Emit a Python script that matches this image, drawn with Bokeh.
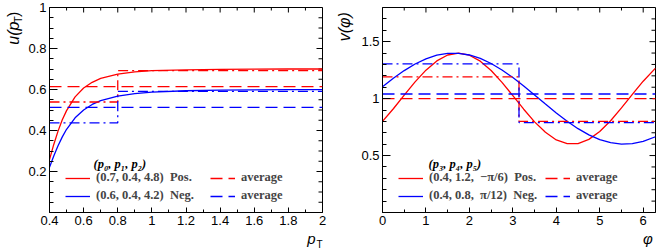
import numpy as np
from bokeh.plotting import figure
from bokeh.layouts import row, column
from bokeh.models import (FixedTicker, Range1d, Label, Legend, LegendItem,
                          PrintfTickFormatter)
from bokeh.core.properties import value
from bokeh.embed import file_html
from bokeh.resources import INLINE

# ---------------- data: left panel u(pT) ----------------
pt = [0.4, 0.425, 0.45, 0.475, 0.5, 0.55, 0.6, 0.65, 0.7, 0.8, 0.9, 1.0,
      1.2, 1.4, 1.6, 1.8, 2.0]
u_pos = [0.258, 0.332, 0.397, 0.452, 0.497, 0.564, 0.607, 0.635, 0.654,
         0.675, 0.686, 0.692, 0.696, 0.698, 0.699, 0.700, 0.700]
u_neg = [0.221, 0.276, 0.326, 0.369, 0.406, 0.462, 0.500, 0.527, 0.546,
         0.568, 0.580, 0.587, 0.594, 0.597, 0.598, 0.599, 0.599]
u_avg_pos = 0.614
u_avg_neg = 0.513
pt_edges = [0.4, 0.8, 2.0]
u_bin_pos = [0.539, 0.692]
u_bin_neg = [0.437, 0.591]

# ---------------- data: right panel v(phi) ----------------
phi = [0.0, 0.25, 0.5, 0.75, 1.0, 1.25, 1.5, 1.75, 2.0, 2.25, 2.5, 2.75,
       3.0, 3.25, 3.5, 3.75, 4.0, 4.25, 4.5, 4.75, 5.0, 5.25, 5.5, 5.75,
       6.0, 6.2832]
v_pos = [0.800, 0.911, 1.031, 1.147, 1.250, 1.331, 1.383, 1.400, 1.381,
         1.329, 1.247, 1.143, 1.026, 0.907, 0.796, 0.704, 0.637, 0.604,
         0.605, 0.642, 0.711, 0.806, 0.918, 1.037, 1.153, 1.268]
v_neg = [1.104, 1.178, 1.246, 1.304, 1.349, 1.381, 1.398, 1.398, 1.383,
         1.353, 1.308, 1.251, 1.185, 1.111, 1.032, 0.952, 0.874, 0.801,
         0.736, 0.682, 0.640, 0.613, 0.601, 0.605, 0.624, 0.665]
v_avg_pos = 1.0
v_avg_neg = 1.041
phi_edges = [0.0, 3.1416, 6.2832]
v_bin_pos = [1.19, 0.80]
v_bin_neg = [1.305, 0.79]

# ---------------- ticks ----------------
pt_major = [0.4, 0.6, 0.8, 1.0, 1.2, 1.4, 1.6, 1.8, 2.0]
pt_minor = [0.5, 0.7, 0.9, 1.1, 1.3, 1.5, 1.7, 1.9]
u_major = [0.2, 0.4, 0.6, 0.8, 1.0]
u_minor = [0.05, 0.1, 0.15, 0.25, 0.3, 0.35, 0.45, 0.5, 0.55, 0.65, 0.7,
           0.75, 0.85, 0.9, 0.95]
phi_major = [0, 1, 2, 3, 4, 5, 6]
phi_minor = [0.5, 1.5, 2.5, 3.5, 4.5, 5.5]
v_major = [0.5, 1.0, 1.5]
v_minor = [0.1, 0.2, 0.3, 0.4, 0.6, 0.7, 0.8, 0.9, 1.1, 1.2, 1.3, 1.4,
           1.6, 1.7]

RED = "#ff0000"
BLUE = "#0000ff"
DASH = "12 6"
DASHDOT = "10 4 2 4"
SANS = "Liberation Sans"
SERIF = "Liberation Serif"
H = 229          # main row height
BT, BB = 7, 17   # frame top/bottom borders
FW = 273         # frame width
TW = 24          # width of the y-title strips
XH = 21          # height of the x-title strip


def style_axis(ax, major, minor, tin, tmin):
    ax.ticker = FixedTicker(ticks=major, minor_ticks=minor)
    ax.formatter = PrintfTickFormatter(format="%g")
    ax.major_tick_in = tin
    ax.major_tick_out = 0
    ax.minor_tick_in = tmin
    ax.minor_tick_out = 0
    ax.axis_line_color = "black"
    ax.major_tick_line_color = "black"
    ax.minor_tick_line_color = "black"
    ax.major_label_text_font = SANS
    ax.major_label_text_font_size = "13px"
    ax.major_label_text_color = "black"
    ax.major_label_standoff = 3


def make_panel(bl, br, xr, yr, xmaj, xmin, ymaj, ymin):
    p = figure(width=bl + FW + br, height=H, x_range=Range1d(*xr),
               y_range=Range1d(*yr), output_backend="svg",
               toolbar_location=None, min_border_left=bl,
               min_border_right=br, min_border_top=BT, min_border_bottom=BB)
    p.xgrid.visible = False
    p.ygrid.visible = False
    p.outline_line_color = "black"
    p.outline_line_width = 1
    style_axis(p.xaxis[0], xmaj, xmin, 5, 3)
    style_axis(p.yaxis[0], ymaj, ymin, 8, 4)
    # tick marks on the top and right frame edges
    x1, y1 = xr[1], yr[1]
    p.ray(x=xmaj, y=[y1] * len(xmaj), length=5, length_units="screen",
          angle=-np.pi / 2, line_color="black", line_width=1)
    p.ray(x=xmin, y=[y1] * len(xmin), length=3, length_units="screen",
          angle=-np.pi / 2, line_color="black", line_width=1)
    p.ray(x=[x1] * len(ymaj), y=ymaj, length=6, length_units="screen",
          angle=np.pi, line_color="black", line_width=1)
    p.ray(x=[x1] * len(ymin), y=ymin, length=4, length_units="screen",
          angle=np.pi, line_color="black", line_width=1)
    return p


def blank(w, h):
    # a bare strip whose data coordinates equal its pixels (y up)
    f = figure(width=w, height=h, x_range=Range1d(0, w), y_range=Range1d(0, h),
               output_backend="svg", toolbar_location=None,
               x_axis_location=None, y_axis_location=None,
               min_border_left=0, min_border_right=0, min_border_top=0,
               min_border_bottom=0)
    f.outline_line_color = None
    f.grid.visible = False
    return f


def lbl(p, x, y, text, size="16px", style="italic", align="center",
        baseline="middle", font=SANS):
    p.add_layout(Label(x=x, y=y, x_units="screen", y_units="screen", text=text,
                       text_font=font, text_font_size=size,
                       text_font_style=style, text_align=align,
                       text_baseline=baseline, text_color="black"))


def vtext(p, x, y, text, size="16px", style="italic"):
    # vertical (bottom-to-top) title piece, centred on (x, y)
    p.text(x=[x], y=[y], text=[text], angle=np.pi / 2, text_align="center",
           text_baseline="middle", text_font=value(SANS),
           text_font_size=value(size), text_font_style=style,
           text_color="black")


def add_legends(p, items1, items2, x2, header, hx):
    common = dict(padding=0, spacing=3, glyph_height=14, glyph_width=25,
                  label_height=14, label_standoff=6, label_text_font=SERIF,
                  label_text_font_style="bold", label_text_font_size="12.5px",
                  background_fill_alpha=0, border_line_alpha=0, margin=0)
    p.add_layout(Legend(items=items1, location=(16, 9), **common))
    p.add_layout(Legend(items=items2, location=(x2, 9), **common))
    lbl(p, hx, 49, header, size="12.5px", style="bold italic", font=SERIF,
        align="left")


def steps(edges, vals):
    xs, ys = [], []
    for i, v in enumerate(vals):
        xs.extend([edges[i], edges[i + 1]])
        ys.extend([v, v])
    return xs, ys


# ---------------- left panel ----------------
p1 = make_panel(25, 8, (0.4, 2.0), (0.0, 1.0), pt_major, pt_minor,
                u_major, u_minor)
r1 = p1.line(pt, u_pos, line_color=RED, line_width=1.3)
r2 = p1.line(pt, u_neg, line_color=BLUE, line_width=1.3)
r3 = p1.line([pt_edges[0], pt_edges[-1]], [u_avg_pos, u_avg_pos],
             line_color=RED, line_width=1.4, line_dash=DASH)
r4 = p1.line([pt_edges[0], pt_edges[-1]], [u_avg_neg, u_avg_neg],
             line_color=BLUE, line_width=1.4, line_dash=DASH)
xs, ys = steps(pt_edges, u_bin_pos)
p1.line(xs, ys, line_color=RED, line_width=1.3, line_dash=DASHDOT)
xs, ys = steps(pt_edges, u_bin_neg)
p1.line(xs, ys, line_color=BLUE, line_width=1.3, line_dash=DASHDOT)
add_legends(p1,
            [LegendItem(label="(0.7, 0.4, 4.8)  Pos.", renderers=[r1]),
             LegendItem(label="(0.6, 0.4, 4.2)  Neg.", renderers=[r2])],
            [LegendItem(label="average", renderers=[r3]),
             LegendItem(label="average", renderers=[r4])],
            161, "(p\u2080, p\u2081, p\u2082)", 44)

# ---------------- right panel ----------------
p2 = make_panel(28, 5, (0.0, 6.2832), (0.0, 1.8), phi_major, phi_minor,
                v_major, v_minor)
s1 = p2.line(phi, v_pos, line_color=RED, line_width=1.3)
s2 = p2.line(phi, v_neg, line_color=BLUE, line_width=1.3)
s3 = p2.line([phi_edges[0], phi_edges[-1]], [v_avg_pos, v_avg_pos],
             line_color=RED, line_width=1.4, line_dash=DASH)
s4 = p2.line([phi_edges[0], phi_edges[-1]], [v_avg_neg, v_avg_neg],
             line_color=BLUE, line_width=1.4, line_dash=DASH)
xs, ys = steps(phi_edges, v_bin_pos)
p2.line(xs, ys, line_color=RED, line_width=1.3, line_dash=DASHDOT)
xs, ys = steps(phi_edges, v_bin_neg)
p2.line(xs, ys, line_color=BLUE, line_width=1.3, line_dash=DASHDOT)
add_legends(p2,
            [LegendItem(label="(0.4, 1.2,  \u2212\u03c0/6)  Pos.", renderers=[s1]),
             LegendItem(label="(0.4, 0.8,  \u03c0/12)  Neg.", renderers=[s2])],
            [LegendItem(label="average", renderers=[s3]),
             LegendItem(label="average", renderers=[s4])],
            163, "(p\u2083, p\u2084, p\u2085)", 46)

# ---------------- axis titles (own strips, so nothing is clipped) ----------------
yt1 = blank(TW, H)
vtext(yt1, 12.5, H - 28.6, "u(p")
vtext(yt1, 17.7, H - 13.7, "T", size="11px", style="normal")
vtext(yt1, 12.5, H - 7.7, ")", style="normal")

yt2 = blank(TW, H)
vtext(yt2, 13.5, H - 21.5, "v(\u03c6)")

W1 = TW + p1.width
W2 = TW + p2.width
xt = blank(W1 + W2, XH)
lbl(xt, 310.8, 12.2, "p", size="15px")
lbl(xt, 319.0, 6.0, "T", size="10px", style="normal")
lbl(xt, 647.5, 12.2, "\u03c6", size="15px")

layout = column(row(yt1, p1, yt2, p2), xt)
open("out.html", "w").write(file_html(layout, INLINE))
